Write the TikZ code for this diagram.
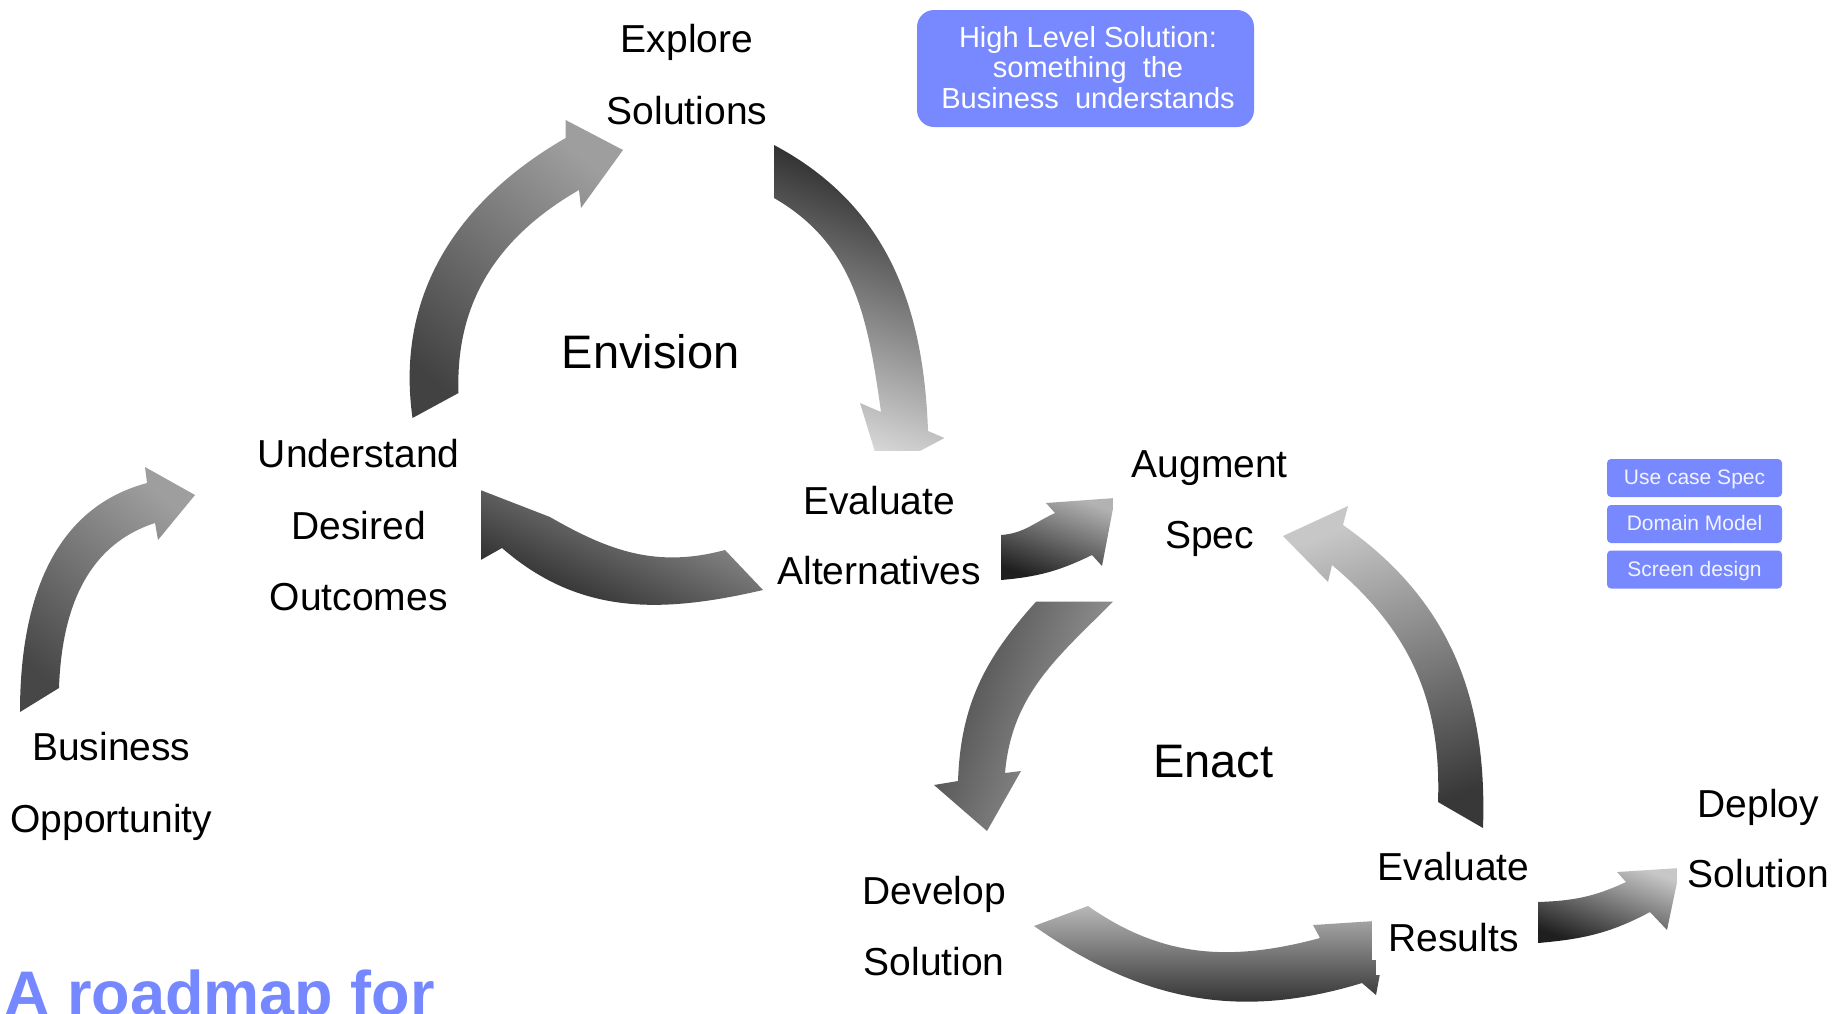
\documentclass[tikz,border=0pt]{standalone}
\usepackage{fontspec}
\setmainfont{Liberation Sans}
\definecolor{boxblue}{RGB}{120,137,255}
\definecolor{titleblue}{RGB}{118,136,255}
\definecolor{boxtext}{RGB}{242,244,255}
\begin{document}
\begin{tikzpicture}[x=1pt,y=1pt,yscale=-1,
  lbl/.style={anchor=base,inner sep=0pt,font=\fontsize{39}{47}\selectfont},
  phase/.style={anchor=base,inner sep=0pt,font=\fontsize{47}{56}\selectfont},
  mask/.style={fill=white,draw=none},
  bluebox/.style={fill=boxblue,draw=none,rounded corners=17pt,minimum width=337pt,minimum height=117pt,inner sep=0pt},
  boxline/.style={anchor=base,inner sep=0pt,text=white,font=\fontsize{29}{30}\selectfont},
  tagbox/.style={fill=boxblue,draw=none,rounded corners=4pt,minimum width=175pt,minimum height=38pt,inner sep=0pt,text=boxtext,font=\fontsize{21}{24}\selectfont,text height=16pt,text depth=3pt},
  shA/.style={top color=black!38,bottom color=black!72,shading angle=-40},
  shB/.style={top color=black!38,bottom color=black!74,shading angle=-40},
  shC/.style={top color=black!85,bottom color=black!12,shading angle=-20},
  shD/.style={top color=black!38,bottom color=black!92,shading angle=-25},
  shE/.style={top color=black!30,bottom color=black!88,shading angle=-20},
  shF/.style={top color=black!35,bottom color=black!72,shading angle=-110},
  shG/.style={top color=black!28,bottom color=black!90,shading angle=0},
  shH/.style={top color=black!22,bottom color=black!78,shading angle=20},
  shI/.style={top color=black!22,bottom color=black!88,shading angle=-20}]
\useasboundingbox (0,0) rectangle (1838,1013);

% ---- curved block arrows ----
% Business Opportunity -> Understand
\shade[shA] (20,712) to[out=270,in=165] (147,483) -- (145,467) -- (195,495) -- (158,540) -- (155,523) to[out=162,in=272] (59,688) -- cycle;
% Envision cycle
\shade[shB] (412.5,418) to[out=262,in=150] (565.6,138) -- (565.6,120) -- (623,150) -- (581,208) -- (579,190) to[out=150,in=268] (458.5,393) -- cycle;
\shade[shC] (774,145) to[out=28,in=268] (928,431) -- (944.5,438) -- (881,471.5) -- (860,403) -- (881,412) to[out=262,in=30] (774,198) -- cycle;
\shade[shD] (763,590) to[out=167,in=41] (502,548) -- (470,566) -- (430,515) -- (470,486) -- (550,517) to[out=30,in=165] (725,550) -- cycle;
% Evaluate Alternatives -> Augment Spec
\shade[shE] (1001,580) to[out=-5,in=154] (1092,555) -- (1102,566) -- (1115,498) -- (1046,503) -- (1055,513) to[out=155,in=-4] (1001,535) -- cycle;
% Enact cycle
\shade[shF] (1036,601.7) to[out=132,in=272] (958,781) -- (934,785) -- (987,831) -- (1021,771) -- (1005,773) to[out=275,in=135] (1113,601.7) -- cycle;
\shade[shG] (1034,926) to[out=35,in=163] (1362,983) -- (1376,995) -- (1390,920) -- (1313,925) -- (1320,938) to[out=165,in=35] (1088,906) -- cycle;
\shade[shH] (1483,828) to[out=272,in=35] (1343,525) -- (1348,506) -- (1283,536) -- (1328,582) -- (1332,565) to[out=40,in=272] (1438,802) -- cycle;
% Evaluate Results -> Deploy
\shade[shI] (1538,943) to[out=-5,in=152] (1650,912) -- (1667,930) -- (1680,868) -- (1617,872) -- (1626,882) to[out=155,in=-2] (1538,902) -- cycle;

% ---- white label backgrounds ----
\fill[mask] (205,425) rectangle (481,620);
\fill[mask] (770,451) rectangle (1000,600);
\fill[mask] (1113,430) rectangle (1275,600);
\fill[mask] (1371.5,835) rectangle (1538,960);
\fill[mask] (1376,960) rectangle (1538,975);
\fill[mask] (1677,780) rectangle (1838,990);

% ---- step labels ----
\node[lbl] (explore1) at (687,52.7) {Explore};
\node[lbl] (explore2) at (687,124.2) {Solutions};
\node[phase] (envision) at (650.6,368.7) {Envision};
\node[lbl] (under1) at (358.7,467.6) {Understand};
\node[lbl] (under2) at (358.7,539.1) {Desired};
\node[lbl] (under3) at (358.7,610.6) {Outcomes};
\node[lbl] (evalalt1) at (879.2,514.5) {Evaluate};
\node[lbl] (evalalt2) at (879.2,584.9) {Alternatives};
\node[lbl] (augment1) at (1209.7,477) {Augment};
\node[lbl] (augment2) at (1209.7,548.5) {Spec};
\node[lbl] (business1) at (111.4,760.7) {Business};
\node[lbl] (business2) at (111.4,832.2) {Opportunity};
\node[phase] (enact) at (1213.2,777.8) {Enact};
\node[lbl] (develop1) at (934.2,904.9) {Develop};
\node[lbl] (develop2) at (934.2,975.2) {Solution};
\node[lbl] (evalres1) at (1453.5,880.3) {Evaluate};
\node[lbl] (evalres2) at (1453.5,951.8) {Results};
\node[lbl] (deploy1) at (1758.3,817) {Deploy};
\node[lbl] (deploy2) at (1758.3,887.3) {Solution};

% ---- annotation boxes ----
\node[bluebox] (hlsbox) at (1085.5,68.5) {};
\node[boxline] (hls1) at (1088,47) {High Level Solution:};
\node[boxline] (hls2) at (1088,77.5) {something~~the};
\node[boxline] (hls3) at (1088,108) {Business~~understands};
\node[tagbox] (ucspec) at (1694.5,478) {Use case Spec};
\node[tagbox] (dommodel) at (1694.5,524) {Domain Model};
\node[tagbox] (scrdesign) at (1694.5,569.5) {Screen design};

% ---- title ----
\node[anchor=base west,inner sep=0pt,text=titleblue,font=\fontsize{63}{70}\selectfont\bfseries] (title) at (4,1015) {A roadmap for};
\end{tikzpicture}
\end{document}
